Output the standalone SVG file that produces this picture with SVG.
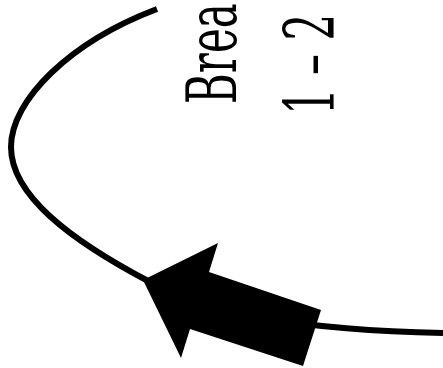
<svg xmlns="http://www.w3.org/2000/svg" width="443" height="368" viewBox="0 0 443 368">
<style>
.lbl{font-family:"DejaVu Serif","Liberation Serif",serif;font-size:42px;fill:#000}
.edge{fill:none;stroke:#000;stroke-width:6}
.head{fill:#000;stroke:none}
</style>
<rect width="443" height="368" fill="#fff"/>
<g id="connectors">
<path class="edge" d="M157,9 C70,42 11,100 11,147 C11,195 70,240 150,282 C220,315 300,330 443,333"/>
<polygon class="head" points="143,280 218,243 209,272 321,310 303,366 190,329 181,358"/>
</g>
<g id="label">
<text class="lbl" transform="translate(236,104) rotate(-90) scale(1,1.63)">Brea</text>
<text class="lbl" transform="translate(334,115) rotate(-90) scale(1,1.63)">1 – 2</text>
</g>
</svg>
